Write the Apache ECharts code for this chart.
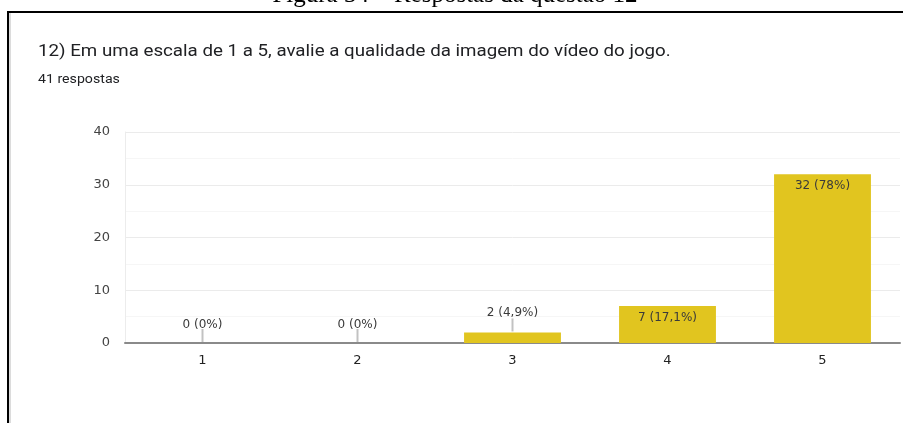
<!DOCTYPE html>
<html>
<head>
<meta charset="utf-8">
<script src="https://cdn.jsdelivr.net/npm/echarts@6/dist/echarts.min.js"></script>
<style>
  html, body { margin: 0; padding: 0; background: #fff; }
  #chart { width: 903px; height: 423px; }
</style>
</head>
<body>
<div id="chart"></div>
<script>
// respostas por nota
var categories = ['1', '2', '3', '4', '5'];
var counts = [0, 0, 2, 7, 32];
var percents = ['0%', '0%', '4,9%', '17,1%', '78%'];
var yTicks = [0, 10, 20, 30, 40];

var myChart = echarts.init(document.getElementById('chart'));

var labelText = function (i) {
  return counts[i] + ' (' + percents[i] + ')';
};

var option = {
  animation: false,
  textStyle: { fontFamily: '"DejaVu Sans", sans-serif' },
  graphic: [
    {
      type: 'text', x: 455, y: 8,
      style: {
        text: 'Figura 34 – Respostas da questão 12', font: '25px "Liberation Serif"',
        fill: '#000', align: 'center', verticalAlign: 'bottom'
      }
    },
    {
      type: 'rect', shape: { x: 8, y: 12, width: 920, height: 440 },
      style: { fill: 'none', stroke: '#000', lineWidth: 2 }
    },
    {
      type: 'line', shape: { x1: 10, y1: 13, x2: 10, y2: 423 },
      style: { stroke: '#dcdcdc', lineWidth: 2 }
    },
    {
      type: 'text', x: 38, y: 52, scaleX: 1.17,
      style: {
        text: '12) Em uma escala de 1 a 5, avalie a qualidade da imagem do vídeo do jogo.',
        font: '16px Roboto', fill: '#202124', verticalAlign: 'middle'
      }
    },
    {
      type: 'text', x: 38, y: 80, scaleX: 1.18,
      style: { text: '41 respostas', font: '12px Roboto', fill: '#202124', verticalAlign: 'middle' }
    }
  ],
  grid: { left: 125, right: 3, top: 132, bottom: 80 },
  xAxis: {
    type: 'category',
    data: categories,
    axisLine: { lineStyle: { color: '#8a8a8a', width: 2 } },
    axisTick: { show: false },
    axisLabel: { color: '#222', fontSize: 13, margin: 11 }
  },
  yAxis: {
    type: 'value',
    min: yTicks[0],
    max: yTicks[yTicks.length - 1],
    interval: 10,
    axisLine: { show: true, lineStyle: { color: '#ececec' } },
    axisLabel: { color: '#444', fontSize: 13, margin: 15 },
    splitLine: { lineStyle: { color: '#ebebeb' } },
    minorTick: { show: false, splitNumber: 2 },
    minorSplitLine: { show: true, lineStyle: { color: '#f6f6f6' } }
  },
  series: [
    {
      type: 'bar',
      data: counts.map(function (v) {
        return {
          value: v,
          label: v < 5
            ? { position: 'top', distance: v === 0 ? 12 : 14 }
            : { position: 'insideTop', distance: 6 }
        };
      }),
      barWidth: '62.5%',
      itemStyle: { color: '#e1c51f' },
      label: {
        show: true,
        color: '#3a3a3a',
        fontSize: 12,
        formatter: function (p) { return labelText(p.dataIndex); }
      }
    },
    {
      // linhas guia dos rótulos externos
      type: 'custom',
      data: counts.map(function (v, i) { return [i, v]; }),
      renderItem: function (params, api) {
        var v = api.value(1);
        if (v >= 5) return null;
        var p = api.coord([api.value(0), v]);
        return {
          type: 'line',
          shape: { x1: p[0], y1: p[1] - 1, x2: p[0], y2: p[1] - 14 },
          style: { stroke: '#c2c2c2', lineWidth: 2 }
        };
      },
      z: 3
    }
  ]
};

myChart.setOption(option);
window.addEventListener('resize', function () {
  myChart.resize();
});
</script>
</body>
</html>
